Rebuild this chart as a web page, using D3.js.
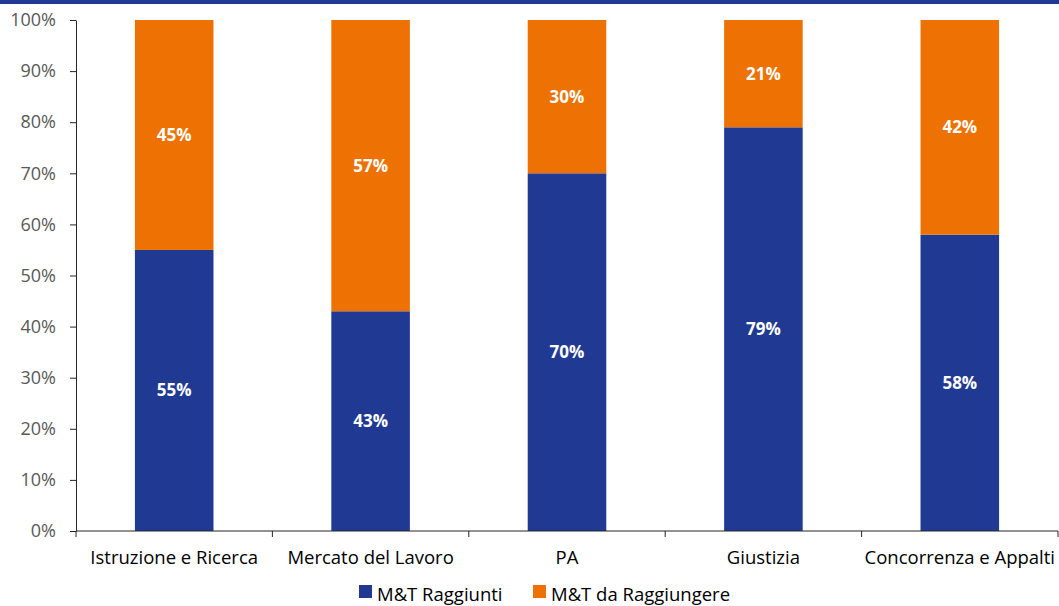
<!DOCTYPE html>
<html>
<head>
<meta charset="utf-8">
<script src="https://cdn.jsdelivr.net/npm/d3@7"></script>
<style>
  html, body { margin: 0; padding: 0; background: #fff; }
  svg { display: block; font-family: "Open Sans", "Noto Sans", sans-serif; }
</style>
</head>
<body>
<svg id="chart" width="1059" height="606"></svg>
<script>
// Riforme per ambito: quota di milestone e target raggiunti / da raggiungere
const categories = ["Istruzione e Ricerca", "Mercato del Lavoro", "PA", "Giustizia", "Concorrenza e Appalti"];
const raggiunti = [55, 43, 70, 79, 58];
const daRaggiungere = [45, 57, 30, 21, 42];
const seriesNames = ["M&T Raggiunti", "M&T da Raggiungere"];
const seriesColors = ["#203A94", "#EE7203"];
const yTicks = [0, 10, 20, 30, 40, 50, 60, 70, 80, 90, 100];

const svg = d3.select("#chart");
const W = 1059, H = 606;
const margin = { top: 20, right: 1, bottom: 75, left: 76 };

// banner stripe across the top
svg.append("rect").attr("x", 0).attr("y", 0).attr("width", W).attr("height", 4).attr("fill", "#203A94");

const x = d3.scaleBand().domain(categories).range([margin.left, W - margin.right]).paddingInner(0.6).paddingOuter(0.3);
const y = d3.scaleLinear().domain([0, 100]).range([H - margin.bottom, margin.top]);

const rows = categories.map((c, i) => ({ cat: c, a: raggiunti[i], b: daRaggiungere[i] }));
const stack = d3.stack().keys(["a", "b"])(rows);

const g = svg.append("g");
stack.forEach((layer, li) => {
  g.selectAll(null).data(layer).enter().append("rect")
    .attr("x", d => x(d.data.cat))
    .attr("width", x.bandwidth())
    .attr("y", d => y(d[1]))
    .attr("height", d => y(d[0]) - y(d[1]))
    .attr("fill", seriesColors[li]);
  g.selectAll(null).data(layer).enter().append("text")
    .attr("x", d => x(d.data.cat) + x.bandwidth() / 2)
    .attr("y", d => (y(d[0]) + y(d[1])) / 2)
    .attr("dy", "0.35em")
    .attr("text-anchor", "middle")
    .attr("fill", "#fff")
    .attr("font-weight", "bold")
    .attr("font-size", 17)
    .text(d => (d[1] - d[0]) + "%");
});

// y axis
const yAxis = svg.append("g").attr("transform", `translate(${margin.left},0)`)
  .call(d3.axisLeft(y).tickValues(yTicks).tickFormat(d => d + "%").tickSize(6).tickSizeOuter(0));
yAxis.select(".domain").attr("stroke", "#262626");
yAxis.selectAll(".tick line").attr("stroke", "#262626");
yAxis.selectAll(".tick text").attr("fill", "#595959").attr("font-size", 18).attr("x", -20).style("font-family", "Open Sans");

// x axis with tick marks at band boundaries
const xBase = H - margin.bottom;
const xa = svg.append("g").attr("transform", `translate(0,${xBase})`);
xa.append("line").attr("x1", margin.left).attr("x2", W - margin.right).attr("stroke", "#262626");
const bounds = d3.range(categories.length + 1).map(i => margin.left + (W - margin.right - margin.left) * i / categories.length);
xa.selectAll(null).data(bounds).enter().append("line")
  .attr("x1", d => d).attr("x2", d => d).attr("y1", 0).attr("y2", 6).attr("stroke", "#262626");
xa.selectAll(null).data(categories).enter().append("text")
  .attr("x", d => x(d) + x.bandwidth() / 2)
  .attr("y", 33)
  .attr("text-anchor", "middle")
  .attr("fill", "#000")
  .attr("font-size", 18.5)
  .text(d => d);

// legend
const legend = svg.append("g").attr("transform", `translate(359,${H - 5})`);
const legendX = [0, 174];
seriesNames.forEach((n, i) => {
  legend.append("rect").attr("x", legendX[i]).attr("y", -16).attr("width", 13).attr("height", 13).attr("fill", seriesColors[i]);
  legend.append("text").attr("x", legendX[i] + 18).attr("y", 0).attr("font-size", 18.5).attr("fill", "#000").text(n);
});
</script>
</body>
</html>
